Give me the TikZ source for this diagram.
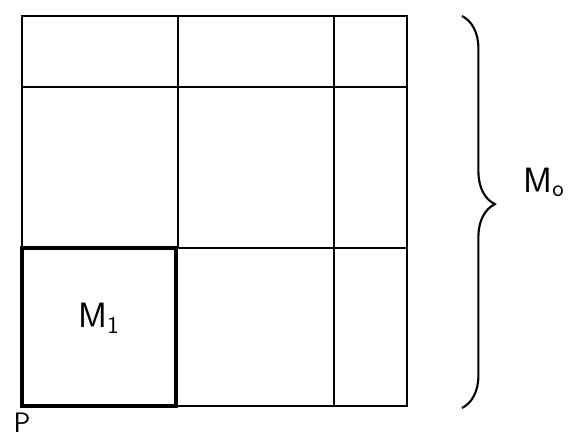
\documentclass[tikz,border=0pt]{standalone}
\usetikzlibrary{decorations.pathreplacing}
\begin{document}
\begin{tikzpicture}[x=0.03cm,y=-0.03cm]
\def\labelfont{\sffamily\fontsize{30}{36}\selectfont}
\useasboundingbox (0,0) rectangle (569,439);

\draw[line width=1.4pt] (178,16) -- (178,248) (334,16) -- (334,406);
\draw[line width=1.4pt] (22,87) -- (407,87) (176,248) -- (407,248) (176,406) -- (407,406);
\draw[line width=2.2pt] (22,16) rectangle (407,406);
\draw[line width=3.6pt] (22,248) rectangle (176,406);
\draw[line width=1.8pt, decorate, decoration={brace,amplitude=28pt,aspect=0.48}]
  (462,16) -- (462,408);

\node[font=\labelfont] (m1) at (99,318) {M$_{\mathsf{1}}$};
\node[font=\labelfont] (m0) at (544,182) {M$_{\mathsf{o}}$};
\node[font=\sffamily\fontsize{24}{28}\selectfont, inner sep=0pt] (p) at (22,423) {P};
\end{tikzpicture}
\end{document}
